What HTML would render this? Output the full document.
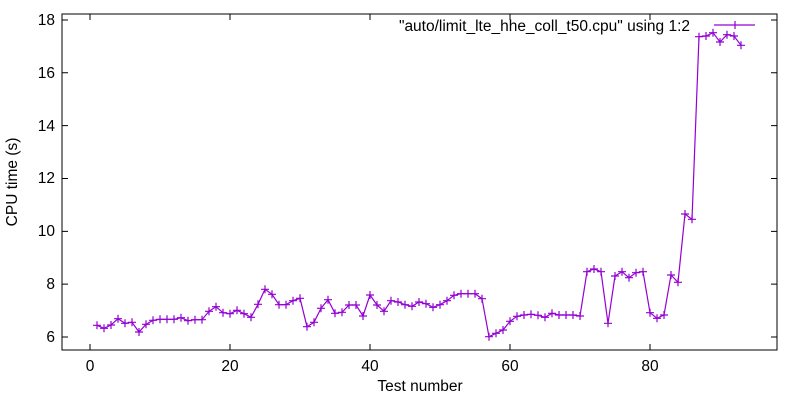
<!DOCTYPE html><html><head><style>body{margin:0;background:#fff}svg text{font-family:"Liberation Sans",sans-serif;font-size:15.5px;fill:#000}</style></head><body>
<svg width="800" height="400" xmlns="http://www.w3.org/2000/svg">
<rect x="62" y="14" width="715" height="336" fill="none" stroke="#000" stroke-width="1"/>
<g stroke="#000" stroke-width="1" id="t"></g>
<g text-anchor="end">
<text x="55" y="342">6</text><text x="55" y="289">8</text><text x="55" y="236">10</text><text x="55" y="183">12</text><text x="55" y="131">14</text><text x="55" y="78">16</text><text x="55" y="25">18</text></g>
<g text-anchor="middle">
<text x="90" y="371">0</text><text x="230" y="371">20</text><text x="370" y="371">40</text><text x="510" y="371">60</text><text x="650" y="371">80</text>
<text x="420" y="391">Test number</text></g>
<text transform="translate(17,182) rotate(-90)" text-anchor="middle">CPU time (s)</text>
<text x="690" y="31" text-anchor="end">"auto/limit_lte_hhe_coll_t50.cpu" using 1:2</text>
<g id="p" stroke="#9400d3" fill="none" stroke-width="1.2"></g>
</svg>
<script>
var ys=[325.3,328.3,325,318.7,323.3,322.3,332,324.3,320.3,319.3,319.3,319.3,317.7,320.7,319.7,319.7,311.3,306.7,312.7,313.7,310.3,313.7,317.3,304.3,289.3,294.3,304.7,304.7,300.7,298.3,326.7,322.3,308.3,299.7,313.3,312.3,305,305,316,295,305,311.3,300.7,302,304.7,306.3,302,303.7,307.3,304.7,300.7,295.3,293.7,293.7,293.7,298.7,336.7,333.3,330,321.3,316.3,315,314.3,315.3,317.3,313.3,315,315,315,316,271.7,269,271.7,323.3,276,271.7,277.7,272.7,271.7,312.7,318.3,315,275,282.3,214,219.3,36.7,36,32.7,42,34.7,36,45.3];
var ns="http://www.w3.org/2000/svg",p=document.getElementById("p"),t=document.getElementById("t");
function el(n,a,g){var e=document.createElementNS(ns,n);for(var k in a)e.setAttribute(k,a[k]);g.appendChild(e);}
var d="";ys.forEach(function(y,i){var x=90+7*(i+1);d+=(i?"L":"M")+x+" "+y;el("path",{d:"M"+(x-4)+" "+y+"h8M"+x+" "+(y-4)+"v8"},p);});
el("path",{d:d},p);
el("path",{d:"M714 25H755M735 21v8M731 25h8"},p);
[6,8,10,12,14,16,18].forEach(function(v){var y=337-26.42*(v-6);el("path",{d:"M62 "+y+"h6M777 "+y+"h-6"},t);});
[0,20,40,60,80].forEach(function(v){var x=90+7*v;el("path",{d:"M"+x+" 350v-6M"+x+" 14v6"},t);});
</script>
</body></html>
